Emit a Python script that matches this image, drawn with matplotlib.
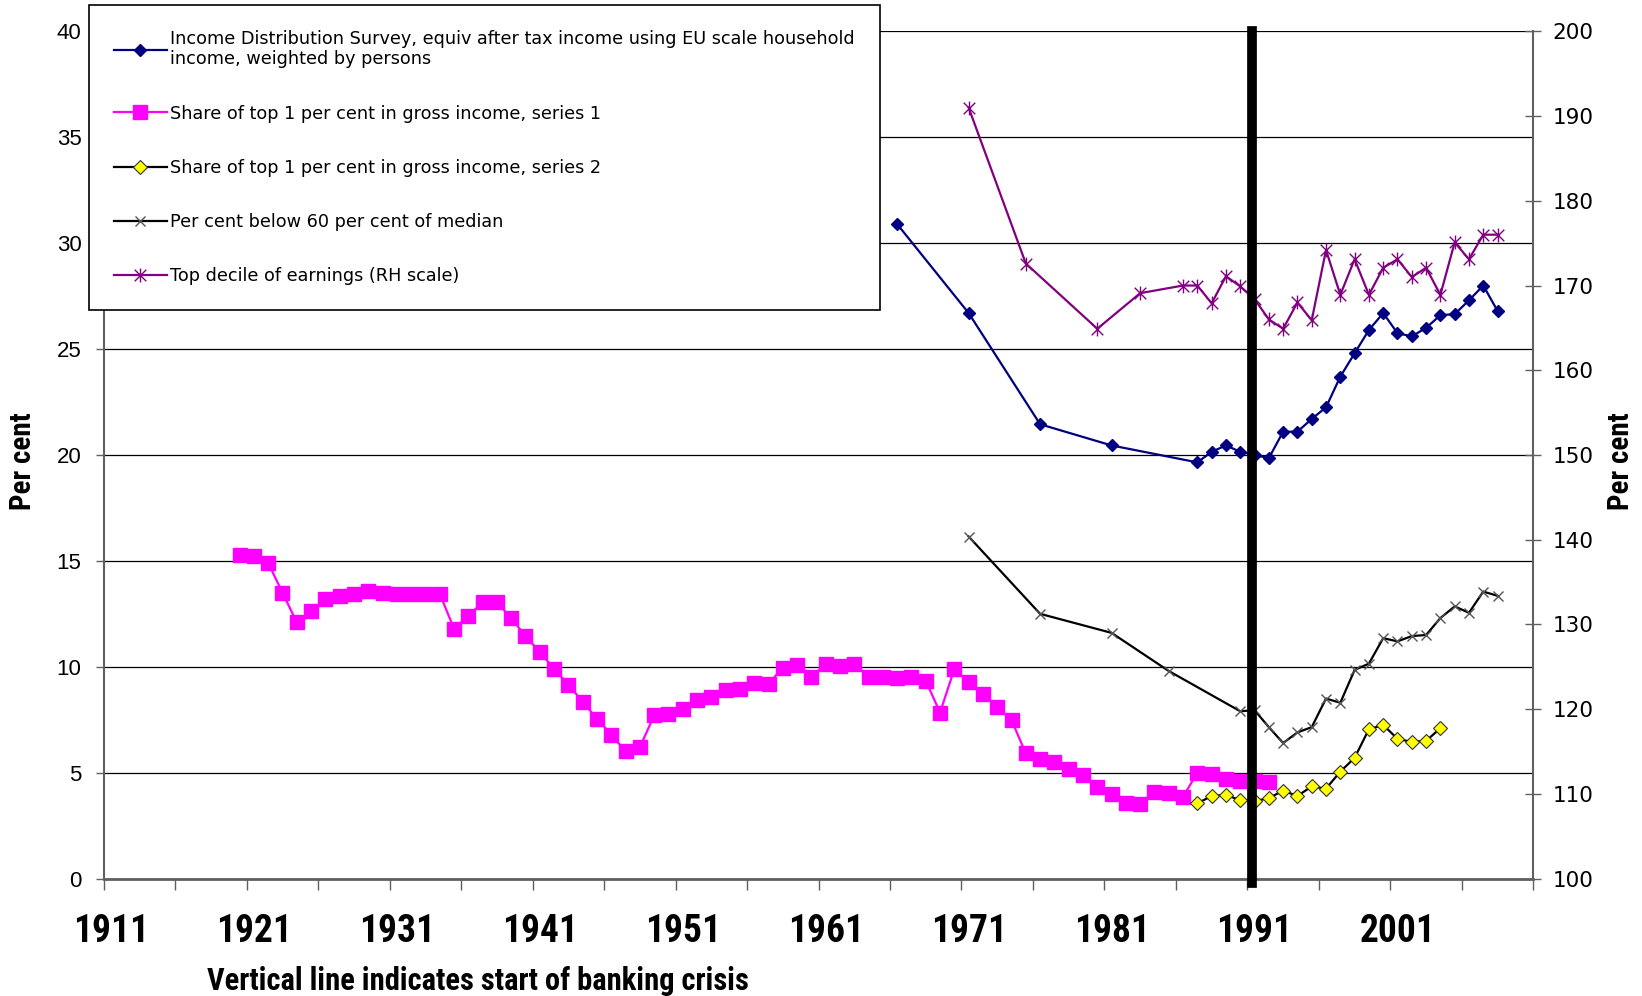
import matplotlib
matplotlib.use("Agg")
import matplotlib.pyplot as plt
from matplotlib import font_manager as fm
from matplotlib.path import Path

# ---------------------------------------------------------------- data
ids_years = [1966, 1971, 1976, 1981] + list(range(1987, 2009))
ids_vals = [30.9, 26.7, 21.45, 20.45,
            19.65, 20.15, 20.45, 20.15, 20.0, 19.85, 21.1, 21.1, 21.7, 22.25, 23.7,
            24.8, 25.9, 26.7, 25.75, 25.6, 26.0, 26.6, 26.65, 27.3, 28.0, 26.8]

top1_s1_years = list(range(1920, 1993))
top1_s1_vals = [15.3, 15.25, 14.9, 13.5, 12.1, 12.65, 13.2, 13.35, 13.45, 13.6,
                13.5, 13.45, 13.45, 13.45, 13.45, 11.8, 12.4, 13.05, 13.05, 12.3,
                11.45, 10.7, 9.9, 9.15, 8.35, 7.55, 6.8, 6.0, 6.2, 7.7,
                7.75, 8.0, 8.45, 8.55, 8.9, 8.95, 9.25, 9.2, 9.95, 10.1,
                9.5, 10.15, 10.05, 10.15, 9.5, 9.5, 9.48, 9.54, 9.34, 7.84,
                9.89, 9.29, 8.71, 8.12, 7.48, 5.91, 5.66, 5.52, 5.19, 4.91,
                4.32, 3.97, 3.58, 3.5, 4.1, 4.02, 3.86, 5.0, 4.92, 4.68,
                4.61, 4.6, 4.56]

top1_s2_years = list(range(1987, 2005))
top1_s2_vals = [3.55, 3.9, 3.95, 3.7, 3.65, 3.8, 4.15, 3.9, 4.35, 4.25,
                5.05, 5.7, 7.05, 7.25, 6.6, 6.45, 6.5, 7.1]

pov_years = [1971, 1976, 1981, 1985] + list(range(1990, 2009))
pov_vals = [16.15, 12.5, 11.6, 9.8,
            7.9, 7.95, 7.15, 6.4, 6.9, 7.15, 8.5, 8.3, 9.85, 10.15,
            11.35, 11.2, 11.45, 11.5, 12.3, 12.85, 12.55, 13.55, 13.35]

earn_years = [1971, 1975, 1980, 1983, 1986, 1987, 1988, 1989, 1990, 1991] + list(range(1992, 2009))
earn_vals = [191.0, 172.6, 164.9, 169.1, 170.0, 170.0, 167.9, 171.1, 169.9, 168.4,
             166.0, 164.9, 168.0, 165.9, 174.2, 168.9, 173.1, 168.9, 172.1, 173.1,
             171.0, 172.1, 168.9, 175.1, 173.1, 176.0, 176.0]

crisis_year = 1990.85
year_labels = list(range(1911, 2011, 10))

labels = ["Income Distribution Survey, equiv after tax income using EU scale household\nincome, weighted by persons",
          "Share of top 1 per cent in gross income, series 1",
          "Share of top 1 per cent in gross income, series 2",
          "Per cent below 60 per cent of median",
          "Top decile of earnings (RH scale)"]

# pick a narrow bold face if one is installed
names = {(f.name, f.stretch) for f in fm.fontManager.ttflist}
narrow = None
for cand in ["Liberation Sans Narrow", "Roboto Condensed", "Open Sans Condensed"]:
    if any(n == cand for n, s in names):
        narrow = dict(family=cand, fontweight="bold")
        scale = 1.0
        break
if narrow is None and any(n == "DejaVu Sans" and s == "condensed" for n, s in names):
    narrow = dict(family="DejaVu Sans", fontstretch="condensed", fontweight="bold")
    scale = 0.92
if narrow is None:
    narrow = dict(family="Liberation Sans", fontweight="bold")
    scale = 0.88

axcol = "#606060"

# ---------------------------------------------------------------- plot
fig = plt.figure(figsize=(16.42, 9.96), dpi=100)
ax = fig.add_axes([0.0632, 0.1179, 0.8706, 0.8506])
ax2 = ax.twinx()

star = Path([(-1, -1), (1, 1), (-1, 1), (1, -1), (0, -1.2), (0, 1.2)],
            [Path.MOVETO, Path.LINETO, Path.MOVETO, Path.LINETO, Path.MOVETO, Path.LINETO])

h1, = ax.plot(ids_years, ids_vals, color="#000080", lw=1.6, marker="D", ms=6.2,
              mfc="#000080", mec="#000080", zorder=4)
h2, = ax.plot(top1_s1_years, top1_s1_vals, color="#FF00FF", lw=1.6, marker="s", ms=10,
              mfc="#FF00FF", mec="#FF00FF", zorder=3)
h3, = ax.plot(top1_s2_years, top1_s2_vals, color="black", lw=1.6, marker="D", ms=6.8,
              mfc="#FFFF00", mec="#333333", mew=0.8, zorder=4)
h4, = ax.plot(pov_years, pov_vals, color="black", lw=1.6, marker="x", ms=7,
              mec="#555555", mew=1.0, zorder=4)
h5, = ax2.plot(earn_years, earn_vals, color="#800080", lw=1.6, marker=star, ms=10,
               mec="#800080", mew=1.0, zorder=4)

ax2.axvline(crisis_year, ymin=-0.005, ymax=1, color="black", lw=7, zorder=10, clip_on=False)

# left axis
ax.set_xlim(1910.5, 2010.5)
ax.set_ylim(0, 40)
ax.set_yticks(range(0, 45, 5))
ax.yaxis.grid(True, color="black", lw=0.9)
ax.set_axisbelow(True)
ax.tick_params(axis="y", direction="out", length=6, width=1, color=axcol, pad=10,
               labelsize=16)
for t in ax.get_yticklabels():
    t.set_fontfamily("Liberation Sans")

# x axis: boundaries every 5 years, labels at category centres
ax.set_xticks(year_labels)
ax.set_xticklabels([str(y) for y in year_labels], fontsize=27 * scale, **narrow)
ax.set_xticks([1910.5 + 5 * k for k in range(21)], minor=True)
ax.tick_params(axis="x", which="major", length=0, pad=25)
ax.tick_params(axis="x", which="minor", direction="out", length=8, width=1, color=axcol)

for s in ["top", "right"]:
    ax.spines[s].set_visible(False)
ax.spines["left"].set_color(axcol)
ax.spines["left"].set_linewidth(1.5)
ax.spines["bottom"].set_color(axcol)
ax.spines["bottom"].set_linewidth(2)

# right axis
ax2.set_ylim(100, 200)
ax2.set_yticks(range(100, 210, 10))
ax2.tick_params(axis="y", direction="inout", length=12, width=1, color=axcol, pad=8,
                labelsize=15.5)
for s in ["top", "left", "bottom"]:
    ax2.spines[s].set_visible(False)
ax2.spines["right"].set_color(axcol)
ax2.spines["right"].set_linewidth(1.5)

fig.text(0.014, 0.537, "Per cent", rotation=90, ha="center", va="center",
         fontsize=21 * scale, **narrow)
fig.text(0.987, 0.537, "Per cent", rotation=90, ha="center", va="center",
         fontsize=21 * scale, **narrow)
fig.text(0.126, 0.015, "Vertical line indicates start of banking crisis", ha="left",
         va="center", fontsize=22 * scale, **narrow)

leg = fig.legend([h1, h2, h3, h4, h5], labels, loc="upper left",
                 bbox_to_anchor=(0.0542, 0.5, 0.4817, 0.495), mode="expand",
                 borderaxespad=0, handlelength=3.0, handletextpad=0.18,
                 labelspacing=2.05, borderpad=1.4, numpoints=1, fancybox=False,
                 framealpha=1, edgecolor="black", prop={"family": "DejaVu Sans", "size": 12.7})
leg.get_frame().set_linewidth(1.2)

fig.savefig("out.png", dpi=100)
